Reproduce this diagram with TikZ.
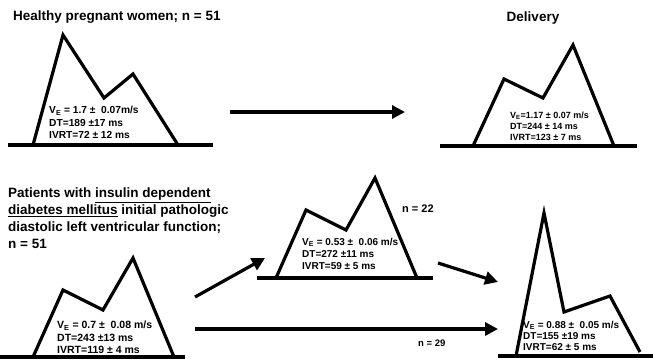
\documentclass[tikz,border=0pt]{standalone}
\usepackage{fontspec}
\setmainfont{Liberation Sans}
\usetikzlibrary{arrows.meta}

\begin{document}
\begin{tikzpicture}[x=1pt,y=1pt]
\tikzstyle{every node}+=[inner sep=0pt]
\tikzstyle{wave}=[line width=3.2pt,line join=miter]
\tikzstyle{base}=[line width=3.2pt]
\tikzstyle{vals}=[anchor=north west,align=left,font=\bfseries\fontsize{10}{12.5}\selectfont]
\tikzstyle{title}=[font=\bfseries\fontsize{13.5}{16.7}\selectfont]
\tikzstyle{count}=[anchor=west,font=\bfseries\fontsize{10.5}{12}\selectfont]
\tikzstyle{flow}=[line width=3.2pt,-{Triangle[length=13pt,width=13pt]}]
\useasboundingbox (0,0) rectangle (653,-359);

% healthy pregnant women
\draw (13,-17) node [title,anchor=west] (hwtitle) {Healthy pregnant women; n = 51};
\draw [base] (8,-145) -- (213,-145);
\draw [wave] (33,-145) -- (63,-35) -- (104,-98) -- (133,-74) -- (178,-145);
\draw (49,-106) node [vals,font=\bfseries\fontsize{10.2}{12.5}\selectfont] (hw) {V\textsubscript{E} = 1.7 ±\ \ 0.07m/s\\DT=189 ±17 ms\\IVRT=72 ± 12 ms};

% delivery
\draw (533,-18) node [title] (deltitle) {Delivery};
\draw [base] (440,-146) -- (637,-146);
\draw [wave] (473,-146) -- (504,-79) -- (543,-98) -- (573,-45) -- (614,-146);
\draw (510,-112) node [vals,font=\bfseries\fontsize{9}{11}\selectfont] (del) {V\textsubscript{E}=1.17 ± 0.07 m/s\\DT=244 ± 14 ms\\IVRT=123 ± 7 ms};

% insulin dependent diabetes mellitus
\draw (8,-188) node [title,anchor=north west,align=left] (iddtitle) {Patients with \underline{insulin dependent}\\\underline{diabetes mellitus} initial pathologic\\diastolic left ventricular function;\\n = 51};
\draw [base] (0,-357) -- (185,-357);
\draw [wave] (33,-357) -- (63,-290) -- (103,-310) -- (133,-258) -- (174,-357);
\draw (57,-321) node [vals,font=\bfseries\fontsize{10.5}{12.5}\selectfont] (idd) {V\textsubscript{E} = 0.7 ±\ \ 0.08 m/s\\DT=243 ±13 ms\\IVRT=119 ± 4 ms};

% n = 22 group
\draw [base] (257,-278) -- (433,-278);
\draw [wave] (276,-278) -- (306,-210) -- (346,-230) -- (375,-178) -- (417,-278);
\draw (302,-238) node [vals,font=\bfseries\fontsize{10}{12}\selectfont] (mid) {V\textsubscript{E} = 0.53 ±\ \ 0.06 m/s\\DT=272 ±11 ms\\IVRT=59 ± 5 ms};
\draw (402,-209) node [count,font=\bfseries\fontsize{11}{12}\selectfont] (n22) {n = 22};

% n = 29 group
\draw [base] (498,-356) -- (653,-356);
\draw [wave] (516,-356) -- (544,-213) -- (564,-312) -- (610,-296) -- (640,-352);
\draw (523,-321) node [vals,font=\bfseries\fontsize{10}{11}\selectfont] (fin) {V\textsubscript{E} = 0.88 ±\ \ 0.05 m/s\\DT=155 ±19 ms\\IVRT=62 ± 5 ms};
\draw (418,-343) node [count,font=\bfseries\fontsize{9.5}{12}\selectfont] (n29) {n = 29};

% arrows
\coordinate (hwout) at (230,-112);
\coordinate (delin) at (405,-112);
\coordinate (iddup) at (195,-297);
\coordinate (midin) at (265,-258);
\coordinate (midout) at (438,-263);
\coordinate (finup) at (498,-282);
\coordinate (iddout) at (195,-329);
\coordinate (finin) at (498,-329);
\draw [flow] (hwout) -- (delin);
\draw [flow] (iddup) -- (midin);
\draw [flow] (midout) -- (finup);
\draw [flow] (iddout) -- (finin);
\end{tikzpicture}
\end{document}
